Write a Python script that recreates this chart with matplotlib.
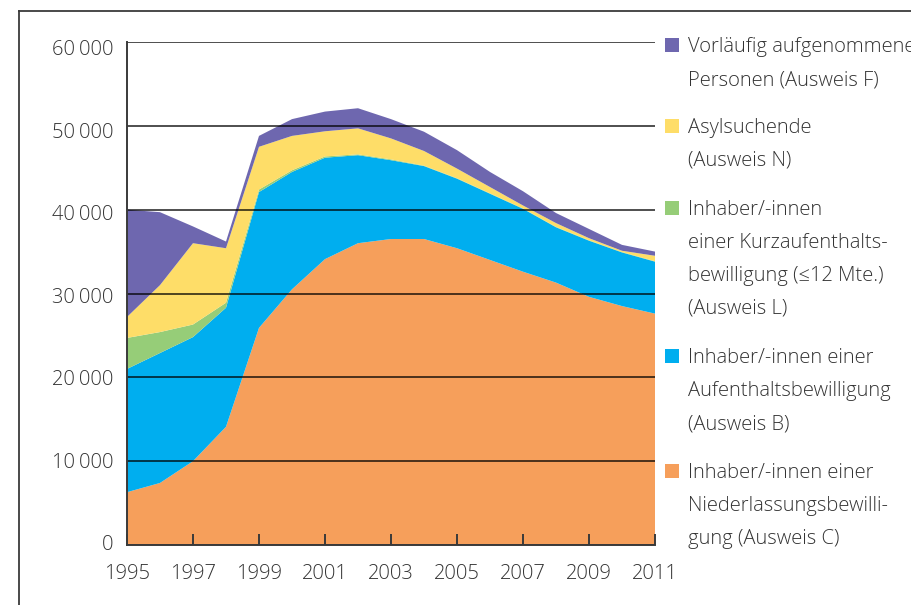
import matplotlib
matplotlib.use("Agg")
import matplotlib.pyplot as plt
from matplotlib.lines import Line2D
from matplotlib.patches import Rectangle
import matplotlib.transforms as mtransforms

plt.rcParams['font.family'] = ['Open Sans', 'DejaVu Sans']

years = list(range(1995, 2012))
ausweis_c = [6300, 7400, 10000, 14100, 25900, 30500, 34100, 36000, 36500, 36500, 35400, 34000, 32600, 31300, 29600, 28500, 27600]
ausweis_b = [14700, 15500, 14800, 14200, 16200, 14000, 12100, 10500, 9400, 8700, 8300, 7900, 7500, 6600, 6700, 6400, 6200]
ausweis_l = [3700, 2500, 1500, 600, 300, 200, 150, 100, 100, 50, 50, 50, 50, 50, 50, 50, 50]
ausweis_n = [2500, 5600, 9700, 6500, 5100, 4100, 3000, 3100, 2500, 1750, 1150, 750, 350, 450, 250, 150, 650]
ausweis_f = [12800, 8700, 2000, 800, 1300, 2000, 2350, 2400, 2300, 2300, 2200, 1800, 1700, 1200, 1100, 700, 500]

colors = ['#F69F5B', '#00AEEF', '#96CD78', '#FEDD68', '#6E67AF']

legend_entries = [
    ('#6E67AF', ['Vorläufig aufgenommene', 'Personen (Ausweis F)']),
    ('#FEDD68', ['Asylsuchende', '(Ausweis N)']),
    ('#96CD78', ['Inhaber/-innen', 'einer Kurzaufenthalts-', 'bewilligung (≤12 Mte.)', '(Ausweis L)']),
    ('#00AEEF', ['Inhaber/-innen einer', 'Aufenthaltsbewilligung', '(Ausweis B)']),
    ('#F69F5B', ['Inhaber/-innen einer', 'Niederlassungsbewilli-', 'gung (Ausweis C)']),
]
legend_baselines = [52, 133, 215, 363, 478]

ytick_vals = [0, 10000, 20000, 30000, 40000, 50000, 60000]
ytick_labels = ['0', '10\u2009000', '20\u2009000', '30\u2009000', '40\u2009000', '50\u2009000', '60\u2009000']
xtick_vals = list(range(1995, 2012, 2))

W, H = 911, 605
txt_color = '#333333'

fig = plt.figure(figsize=(W / 100, H / 100), dpi=100)
ax = fig.add_axes([127 / W, 1 - 545 / H, (655 - 127) / W, (545 - 42) / H])

ax.stackplot(years, ausweis_c, ausweis_b, ausweis_l, ausweis_n, ausweis_f,
             colors=colors, linewidth=0, edgecolor='none', antialiased=True)

ax.set_xlim(1995, 2011)
ax.set_ylim(0, 60000)
ax.set_yticks(ytick_vals)
ax.set_yticklabels(ytick_labels)
ax.set_xticks(xtick_vals)
ax.set_xticklabels([str(y) for y in xtick_vals])

ax.set_axisbelow(False)
ax.yaxis.grid(True, color='black', alpha=0.75, linewidth=1.3)
ax.xaxis.grid(False)

for s in ['top', 'right']:
    ax.spines[s].set_visible(False)
for s in ['left', 'bottom']:
    ax.spines[s].set_color('#3a3a3a')
    ax.spines[s].set_linewidth(1.4)
    ax.spines[s].set_zorder(4)

ax.tick_params(axis='y', length=0, pad=10, labelsize=14.5, labelcolor=txt_color)
ax.tick_params(axis='x', direction='in', length=8, width=1.4, color='#3a3a3a',
               pad=14, labelsize=14.5, labelcolor=txt_color)

# label positions in the reference drift slightly from the gridlines
n = len(ytick_vals)
for i, lab in enumerate(ax.get_yticklabels()):
    shift_px = -(-2 + 7.5 * i / (n - 1))
    off = mtransforms.ScaledTranslation(0, shift_px / 100, fig.dpi_scale_trans)
    lab.set_transform(lab.get_transform() + off)
    lab.set_fontweight('light')
for lab in ax.get_xticklabels():
    lab.set_fontweight('light')

# outer frame
fig.add_artist(Line2D([19 / W, 19 / W], [0, 1 - 11 / H], transform=fig.transFigure,
                      color='#3a3a3a', linewidth=1.3))
fig.add_artist(Line2D([19 / W, 1], [1 - 11 / H, 1 - 11 / H], transform=fig.transFigure,
                      color='#3a3a3a', linewidth=1.3))

# legend
for (col, lines), base in zip(legend_entries, legend_baselines):
    fig.add_artist(Rectangle((665 / W, 1 - base / H), 14 / W, 14 / H,
                             transform=fig.transFigure, facecolor=col, edgecolor='none'))
    for i, line in enumerate(lines):
        fig.text(688 / W, 1 - (base + 33 * i) / H, line, ha='left', va='baseline',
                 fontsize=14.5, color=txt_color, fontweight='light')

fig.savefig('out.png', dpi=100)
